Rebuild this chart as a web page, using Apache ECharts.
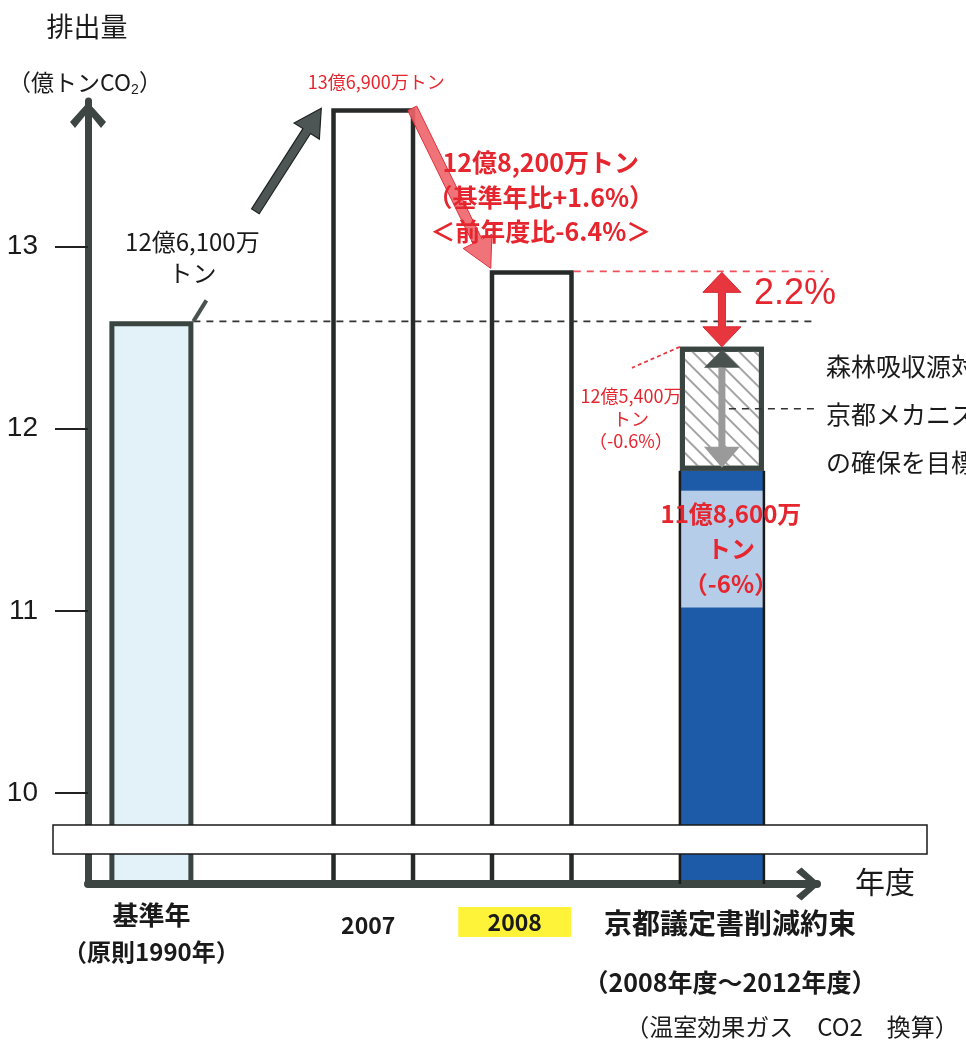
<!DOCTYPE html>
<html><head><meta charset="utf-8">
<script src="https://cdn.jsdelivr.net/npm/echarts@6/dist/echarts.min.js"></script>
<style>html,body{margin:0;padding:0;background:#fff}#c{width:966px;height:1042px}</style>
</head><body><div id="c"></div>
<script>
// ---------------- data ----------------
const categories = ['基準年', '2007', '2008', '京都議定書削減約束'];
const categorySubLabels = ['（原則1990年）', '', '', '（2008年度～2012年度）'];
// 排出量（億トンCO2） bar tops as drawn in the schematic
const emissions = [12.59, 13.76, 12.87, null];
// Kyoto commitment column, cumulative tops of each band (bottom -> top)
const kyotoLevels = [11.02, 11.66, 11.77, 12.45];
const yTicks = [10, 11, 12, 13];
const annBase = '12億6,100万\nトン';
const ann2007 = '13億6,900万トン';
const ann2008 = '12億8,200万トン\n（基準年比+1.6%）\n＜前年度比-6.4%＞';
const annGap = '2.2%';
const annKyotoTop = '12億5,400万\nトン\n（-0.6%）';
const annKyotoTarget = '11億8,600万\nトン\n（-6%）';
const annSinks = '森林吸収源対策で3.8%\n京都メカニズムで1.6%\nの確保を目標';

// ---------------- layout / style ----------------
const JP = "'Noto Sans CJK JP', sans-serif";
const LAT = "'Liberation Sans', Arial, sans-serif";
const NARROW = "'Liberation Sans Narrow', 'Liberation Sans', Arial, sans-serif";
const AXIS_C = '#3d4643';
const RED = '#e5262e';
const SLOT_COUNT = 24;
const slotOf = [2, 9, 14, 20];
const BAR_W = 84;
const CHEVRON = 'path://M0,20 L18,0 L36,20 L31,26 L18,10 L5,26 Z';

const toSlots = (vals) => {
  const a = new Array(SLOT_COUNT).fill(null);
  slotOf.forEach((s, k) => { if (vals[k] != null) a[s] = vals[k]; });
  return a;
};
const slotKeys = Array.from({length: SLOT_COUNT}, (_, i) => 's' + i);

const barStyles = [
  {color: '#e2f2f8', borderColor: '#3a4441', borderWidth: 5},
  {color: '#ffffff', borderColor: '#262a29', borderWidth: 4.5},
  {color: '#ffffff', borderColor: '#262a29', borderWidth: 4.5}
];
const emissionData = toSlots(emissions).map((v, i) => {
  const k = slotOf.indexOf(i);
  return v == null ? null : {value: v, itemStyle: barStyles[k]};
});
const kyotoInc = kyotoLevels.map((v, i) => i === 0 ? v : +(v - kyotoLevels[i - 1]).toFixed(3));
const kyotoSeries = (i) => toSlots([null, null, null, kyotoInc[i]]);

const kyotoStyles = [
  {color: '#1d5aa7', borderWidth: 0},
  {color: '#b5cde9', borderWidth: 0},
  {color: '#1d5aa7', borderWidth: 0},
  {color: '#ffffff', borderColor: '#3a4441', borderWidth: 5,
   decal: {symbol: 'rect', symbolSize: 1, dashArrayX: [1, 0], dashArrayY: [1.6, 9],
           rotation: Math.PI / 4, color: '#a4a4a4', backgroundColor: 'rgba(255,255,255,0)'}}
];

const option = {
  animation: false,
  backgroundColor: '#ffffff',
  grid: {left: 88, right: 149, top: 101, bottom: 158},
  xAxis: {
    type: 'category', boundaryGap: false, data: slotKeys, z: 5,
    axisLine: {onZero: false, lineStyle: {color: AXIS_C, width: 8},
               symbol: ['none', CHEVRON], symbolSize: [34, 24], symbolOffset: [0, -9]},
    axisTick: {show: false},
    axisLabel: {
      interval: 0, margin: 16, hideOverlap: false,
      formatter: (v, idx) => {
        const k = slotOf.indexOf(idx);
        if (k === 0) return '{b1|' + categories[0] + '}\n{b2|' + categorySubLabels[0] + '}';
        if (k === 1) return '{yr|' + categories[1] + '}{p10| }';
        if (k === 2) return '{sp| }\n{hl|' + categories[2] + '}{p34| }';
        if (k === 3) return '{p16| }{k1|' + categories[3] + '}\n{p16| }{k2|' + categorySubLabels[3] + '}';
        return '';
      },
      rich: {
        b1: {fontSize: 26, fontWeight: 'bold', lineHeight: 30, color: '#1a1a1a', fontFamily: JP},
        b2: {fontSize: 24, fontWeight: 'bold', lineHeight: 44, color: '#1a1a1a', fontFamily: JP},
        yr: {fontSize: 23, fontWeight: 'bold', lineHeight: 50, color: '#1a1a1a', fontFamily: JP},
        sp: {fontSize: 1, lineHeight: 7},
        hl: {fontSize: 23, fontWeight: 'bold', color: '#1a1a1a', fontFamily: JP, backgroundColor: '#fff33a',
             width: 113, height: 30, lineHeight: 30, align: 'center'},
        p10: {width: 10, fontSize: 1},
        p16: {width: 16, fontSize: 1},
        p34: {width: 34, fontSize: 1},
        k1: {fontSize: 28, fontWeight: 'bold', lineHeight: 46, color: '#1a1a1a', fontFamily: JP},
        k2: {fontSize: 25, fontWeight: 'bold', lineHeight: 72, color: '#1a1a1a', fontFamily: JP}
      }
    }
  },
  yAxis: {
    type: 'value', min: 9.5, max: 13.8, interval: 0.5, z: 5,
    splitLine: {show: false},
    axisLine: {show: true, lineStyle: {color: AXIS_C, width: 7},
               symbol: ['none', CHEVRON], symbolSize: [36, 33], symbolOffset: [0, -14]},
    axisTick: {show: true, customValues: yTicks, length: 33, lineStyle: {color: '#222', width: 2}},
    axisLabel: {customValues: yTicks, margin: 50, fontSize: 28, color: '#1a1a1a', fontFamily: NARROW,
                formatter: (v) => Number.isInteger(v) ? String(v) : ''}
  },
  series: [
    {name: '排出量', type: 'bar', stack: 't', barWidth: BAR_W, data: emissionData, z: 2},
    ...[0, 1, 2, 3].map(i => ({
      name: 'kyoto' + i, type: 'bar', stack: 't', barWidth: BAR_W, data: kyotoSeries(i),
      itemStyle: kyotoStyles[i], z: 2
    }))
  ]
};

const chart = echarts.init(document.getElementById('c'));
chart.setOption(option);

// ---------------- annotations (positions derived from the axes) ----------------
const pt = (k, v) => chart.convertToPixel({xAxisIndex: 0, yAxisIndex: 0}, [slotOf[k], v]);
const HW = BAR_W / 2;
const [xb, yb] = pt(0, emissions[0]);
const [x7, y7] = pt(1, emissions[1]);
const [x8, y8] = pt(2, emissions[2]);
const [xk, ykTop] = pt(3, kyotoLevels[3]);
const ykBand = pt(3, kyotoLevels[2])[1];
const ykMid = (ykTop + ykBand) / 2;
const ykLight = (pt(3, kyotoLevels[0])[1] + pt(3, kyotoLevels[1])[1]) / 2;
const ykBottom = pt(3, 9.5)[1];

function arrowPts(x1, y1, x2, y2, shaft, headW, headL) {
  const dx = x2 - x1, dy = y2 - y1, L = Math.hypot(dx, dy);
  const ux = dx / L, uy = dy / L, nx = -uy, ny = ux;
  const bx = x2 - ux * headL, by = y2 - uy * headL;
  return [
    [x1 + nx * shaft / 2, y1 + ny * shaft / 2], [bx + nx * shaft / 2, by + ny * shaft / 2],
    [bx + nx * headW / 2, by + ny * headW / 2], [x2, y2],
    [bx - nx * headW / 2, by - ny * headW / 2], [bx - nx * shaft / 2, by - ny * shaft / 2],
    [x1 - nx * shaft / 2, y1 - ny * shaft / 2]
  ];
}
function doubleArrowV(x, y1, y2, shaft, headW, headL) {
  return [
    [x, y1], [x + headW / 2, y1 + headL], [x + shaft / 2, y1 + headL],
    [x + shaft / 2, y2 - headL], [x + headW / 2, y2 - headL], [x, y2],
    [x - headW / 2, y2 - headL], [x - shaft / 2, y2 - headL],
    [x - shaft / 2, y1 + headL], [x - headW / 2, y1 + headL]
  ];
}
const txt = (text, x, y, o) => ({type: 'text', z: 50, style: Object.assign({
  text, x, y, fill: '#1a1a1a', fontFamily: JP, align: 'center', verticalAlign: 'middle'}, o)});

const g = [
  // thin dark edges along the blue part of the Kyoto column
  {type: 'line', z: 20, shape: {x1: xk - HW, y1: ykBand, x2: xk - HW, y2: ykBottom},
   style: {stroke: '#1a1a1a', lineWidth: 2.5}},
  {type: 'line', z: 20, shape: {x1: xk + HW, y1: ykBand, x2: xk + HW, y2: ykBottom},
   style: {stroke: '#1a1a1a', lineWidth: 2.5}},
  // axis break band
  {type: 'rect', z: 40, shape: {x: 53, y: 825, width: 874, height: 29},
   style: {fill: '#ffffff', stroke: '#1a1a1a', lineWidth: 1.5}},
  // reference dashed lines
  {type: 'line', z: 30, shape: {x1: xb + HW, y1: yb, x2: xk + 93, y2: yb},
   style: {stroke: '#333', lineWidth: 1.6, lineDash: [7, 6]}},
  {type: 'line', z: 30, shape: {x1: x8 + HW, y1: y8 + 1, x2: xk + 101, y2: y8 + 1},
   style: {stroke: '#f0505a', lineWidth: 1.6, lineDash: [7, 6]}},
  // base-year leader and arrow to 2007
  {type: 'polyline', z: 30, shape: {points: [[xb + HW, yb], [xb + HW + 13, yb - 21]]},
   style: {stroke: '#4a5250', lineWidth: 4, fill: null}},
  {type: 'polygon', z: 30, shape: {points: arrowPts(xb + HW + 62, yb - 110, x7 - HW - 10, y7, 9, 30, 27)},
   style: {fill: '#4d5655', stroke: '#1e2221', lineWidth: 1.2}},
  txt(annBase, xb + 41, yb - 64, {fontSize: 24, lineHeight: 31}),
  txt(ann2007, x7 + 3, y7 - 26, {fontSize: 18, fill: RED}),
  // 2007 -> 2008 red arrow
  {type: 'polygon', z: 30, shape: {points: arrowPts(x7 + HW - 3, y7, x8 - HW + 1, y8 - 2, 10, 32, 30)},
   style: {fill: 'rgba(240,100,108,0.9)', stroke: '#e0303a', lineWidth: 1}},
  txt(ann2008, x8 + 9, y8 - 73, {fontSize: 25, fontWeight: 'bold', lineHeight: 34.5, fill: RED}),
  // 2.2% gap
  {type: 'polygon', z: 30, shape: {points: doubleArrowV(xk, y8 + 2, ykTop, 7, 38, 20)},
   style: {fill: '#e8363f', stroke: '#d9262f', lineWidth: 1}},
  txt(annGap, xk + 32, y8 + 24, {fontSize: 36, fill: RED, fontFamily: LAT, align: 'left'}),
  // inside hatched band
  {type: 'polygon', z: 30, shape: {points: [[xk, ykTop + 3], [xk - 18, ykTop + 21], [xk + 18, ykTop + 21]]},
   style: {fill: '#4a5250'}},
  {type: 'polygon', z: 30, shape: {points: arrowPts(xk, ykTop + 21, xk, ykBand - 3, 7, 36, 21)},
   style: {fill: '#9a9a9a'}},
  {type: 'line', z: 31, shape: {x1: xk + 7, y1: ykMid, x2: xk + 96, y2: ykMid},
   style: {stroke: '#333', lineWidth: 1.6, lineDash: [7, 6]}},
  {type: 'line', z: 30, shape: {x1: xk - HW, y1: ykTop, x2: xk - HW - 48, y2: ykTop + 21},
   style: {stroke: '#e83a42', lineWidth: 1.8, lineDash: [4, 3]}},
  txt(annKyotoTop, xk - HW - 49, ykTop + 72, {fontSize: 18, lineHeight: 22.5, fill: RED}),
  txt(annKyotoTarget, xk + 9, ykLight, {fontSize: 24, fontWeight: 'bold', lineHeight: 35, fill: RED}),
  txt(annSinks, xk + 104, ykMid + 6, {fontSize: 25, lineHeight: 48, align: 'left'}),
  // axis titles and notes
  txt('年度', 885, 882, {fontSize: 30}),
  txt('（温室効果ガス　CO2　換算）', 792, 1027, {fontSize: 24}),
  txt('排出量', 87, 27, {fontSize: 27}),
  {type: 'text', z: 50, style: {
    text: '{m|（億トンCO}{s|2}{m|）}', x: 85, y: 82, align: 'center', verticalAlign: 'middle',
    rich: {m: {fontSize: 23, fontFamily: JP, fill: '#1a1a1a', lineHeight: 30, verticalAlign: 'middle'},
           s: {fontSize: 14, fontFamily: LAT, fill: '#1a1a1a', lineHeight: 30, verticalAlign: 'bottom'}}}}
];
chart.setOption({graphic: g});
</script>
</body></html>
